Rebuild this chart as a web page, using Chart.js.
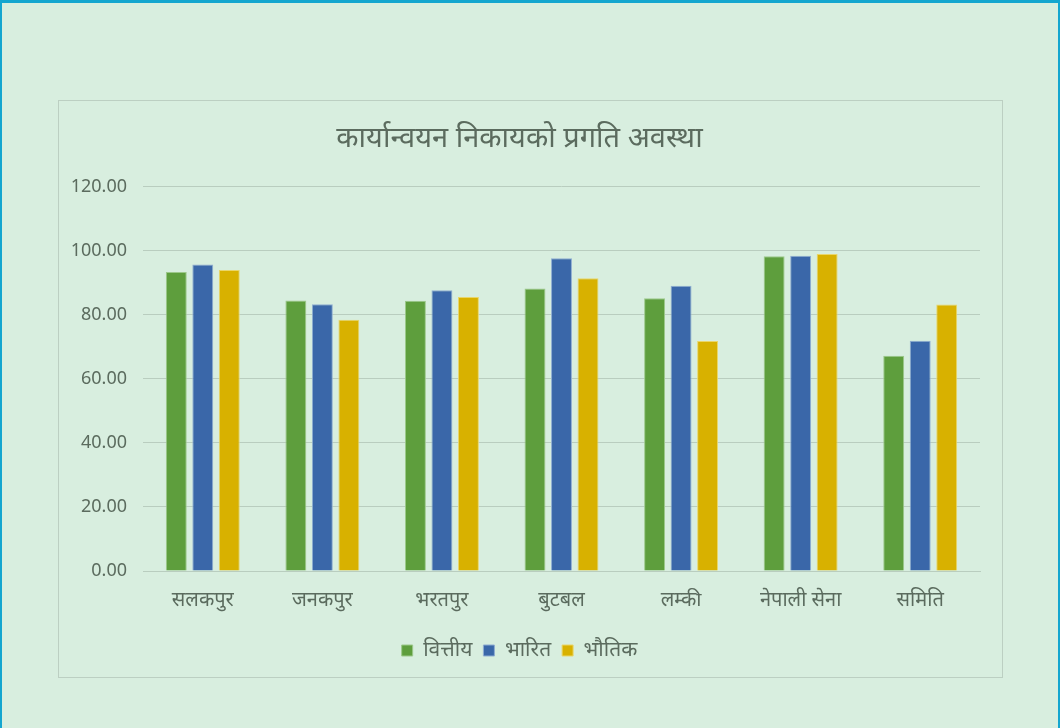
<!DOCTYPE html>
<html>
<head>
<meta charset="utf-8">
<script src="https://cdn.jsdelivr.net/npm/chart.js@4/dist/chart.umd.min.js"></script>
<style>
html,body{margin:0;padding:0;}
body{width:1060px;height:728px;background:#d8eedf;position:relative;overflow:hidden;}
#outer{position:absolute;left:0;top:0;width:1056px;height:740px;border:2px solid #14a6cf;border-top-width:3px;box-sizing:content-box;}
#frame{position:absolute;left:58px;top:100px;width:945px;height:578px;border:1px solid #bccfc2;box-sizing:border-box;}
#wrap{position:absolute;left:59px;top:101px;width:943px;height:576px;}
</style>
</head>
<body>
<div id="outer"></div>
<div id="frame"></div>
<div id="wrap"><canvas id="c"></canvas></div>
<script>
const title = 'कार्यान्वयन निकायको प्रगति अवस्था';
const categories = ['सलकपुर','जनकपुर','भरतपुर','बुटबल','लम्की','नेपाली सेना','समिति'];
const seriesNames = ['वित्तीय','भारित','भौतिक'];
const financial = [93.4, 84.5, 84.4, 88.2, 85.2, 98.3, 67.2];
const weighted  = [95.7, 83.3, 87.7, 97.7, 89.1, 98.5, 71.9];
const physical  = [94.0, 78.5, 85.6, 91.4, 71.8, 99.0, 83.2];
const colors = ['#5e9e3d','#3a67a9','#d8b100'];
const borders = ['#9cc88a','#8fadd2','#e9d66a'];
const textColor = '#5b6b5e';
const fontFam = "'Noto Sans','DejaVu Sans',sans-serif";

const data = {
  labels: categories,
  datasets: [financial, weighted, physical].map((vals,i)=>({
    label: seriesNames[i],
    data: vals,
    backgroundColor: colors[i],
    borderColor: borders[i],
    borderWidth: 1,
    categoryPercentage: 0.665,
    barPercentage: 0.79
  }))
};

new Chart(document.getElementById('c'), {
  type: 'bar',
  data,
  options: {
    responsive: true,
    maintainAspectRatio: false,
    animation: false,
    layout: { padding: { left: 0, right: 22, top: 20, bottom: 6 } },
    plugins: {
      title: {
        display: true, text: title, color: textColor,
        font: { family: fontFam, size: 29, weight: 'normal' },
        padding: { top: 0, bottom: 31 }
      },
      legend: {
        position: 'bottom',
        labels: {
          color: textColor, boxWidth: 11, boxHeight: 11, padding: 11,
          font: { family: fontFam, size: 21 }
        }
      },
      tooltip: { enabled: false }
    },
    scales: {
      x: {
        grid: { display: false, drawTicks: false },
        border: { display: true, color: '#b9cdbf' },
        ticks: { color: textColor, font: { family: fontFam, size: 20 }, padding: 17 }
      },
      y: {
        min: 0, max: 120,
        afterFit: s => { s.width = 84; },
        grid: { color: '#b9cdbf', drawTicks: false },
        border: { display: false },
        ticks: {
          stepSize: 20, color: textColor, padding: 16,
          font: { family: fontFam, size: 18 },
          callback: v => Number(v).toFixed(2)
        }
      }
    }
  }
});
</script>
</body>
</html>
